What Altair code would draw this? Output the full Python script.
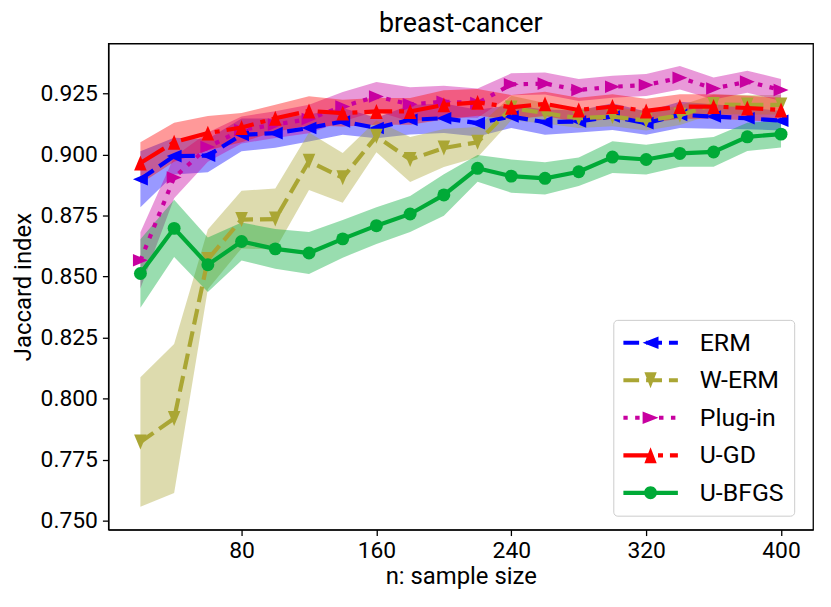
import altair as alt
import pandas as pd

# ---------------- data ----------------
n_values = [20, 40, 60, 80, 100, 120, 140, 160, 180, 200,
            220, 240, 260, 280, 300, 320, 340, 360, 380, 400]

series_names = ["ERM", "W-ERM", "Plug-in", "U-GD", "U-BFGS"]
series_colors = ["#0000ff", "#aaa634", "#c800a0", "#ff0000", "#00aa37"]

erm_mean = [0.8898, 0.8993, 0.8995, 0.9080, 0.9087, 0.9108, 0.9135, 0.9108, 0.9142, 0.9148,
            0.9128, 0.9155, 0.9132, 0.9135, 0.9155, 0.9128, 0.9162, 0.9155, 0.9148, 0.9138]
erm_hw = [0.0115, 0.0075, 0.0068, 0.0067, 0.0060, 0.0055, 0.0055, 0.0042, 0.0060, 0.0060,
          0.0055, 0.0047, 0.0052, 0.0045, 0.0055, 0.0048, 0.0054, 0.0050, 0.0045, 0.0040]

werm_mean = [0.7822, 0.7918, 0.8570, 0.8733, 0.8735, 0.8972, 0.8904, 0.9074, 0.8979, 0.9026,
             0.9050, 0.9190, 0.9169, 0.9148, 0.9155, 0.9138, 0.9160, 0.9205, 0.9203, 0.9203]
werm_hw = [0.0265, 0.0305, 0.0122, 0.0118, 0.0125, 0.0118, 0.0102, 0.0065, 0.0092, 0.0078,
           0.0062, 0.0050, 0.0042, 0.0040, 0.0040, 0.0040, 0.0040, 0.0040, 0.0040, 0.0040]

plug_mean = [0.8566, 0.8905, 0.9030, 0.9100, 0.9122, 0.9145, 0.9196, 0.9237, 0.9205, 0.9216,
             0.9210, 0.9287, 0.9290, 0.9264, 0.9277, 0.9284, 0.9314, 0.9270, 0.9298, 0.9264]
plug_hw = [0.0115, 0.0085, 0.0060, 0.0055, 0.0055, 0.0058, 0.0060, 0.0060, 0.0070, 0.0065,
           0.0060, 0.0045, 0.0045, 0.0045, 0.0045, 0.0045, 0.0048, 0.0045, 0.0045, 0.0045]

ugd_mean = [0.8965, 0.9050, 0.9087, 0.9110, 0.9148, 0.9178, 0.9169, 0.9176, 0.9176, 0.9203,
            0.9213, 0.9193, 0.9207, 0.9182, 0.9196, 0.9178, 0.9196, 0.9196, 0.9190, 0.9182]
ugd_hw = [0.0085, 0.0080, 0.0070, 0.0060, 0.0055, 0.0060, 0.0055, 0.0055, 0.0055, 0.0060,
          0.0055, 0.0050, 0.0050, 0.0050, 0.0050, 0.0050, 0.0050, 0.0050, 0.0050, 0.0050]

ubfgs_mean = [0.8512, 0.8697, 0.8548, 0.8643, 0.8613, 0.8596, 0.8654, 0.8708, 0.8756, 0.8834,
              0.8943, 0.8911, 0.8902, 0.8929, 0.8989, 0.8979, 0.9004, 0.9010, 0.9072, 0.9083]
ubfgs_hw = [0.0140, 0.0117, 0.0112, 0.0078, 0.0081, 0.0086, 0.0077, 0.0075, 0.0074, 0.0085,
            0.0055, 0.0068, 0.0066, 0.0058, 0.0065, 0.0061, 0.0055, 0.0061, 0.0058, 0.0055]

means = [erm_mean, werm_mean, plug_mean, ugd_mean, ubfgs_mean]
halfwidths = [erm_hw, werm_hw, plug_hw, ugd_hw, ubfgs_hw]

x_ticks = [80, 160, 240, 320, 400]
y_ticks = [0.750, 0.775, 0.800, 0.825, 0.850, 0.875, 0.900, 0.925]

# ---------------- styles ----------------
dash_patterns = [[16, 7], [16, 7], [4.5, 7.5], [28, 7, 5, 7], None]
marker_dirs = ["left", "down", "right", "up", "circle"]

FONT = "Roboto"
LW = 4.2


def tri_path(direction, half_len, half_base):
    L, B = half_len, half_base
    if direction == "up":
        return f"M0,{-L}L{B},{L}L{-B},{L}Z"
    if direction == "down":
        return f"M{-B},{-L}L{B},{-L}L0,{L}Z"
    if direction == "left":
        return f"M{-L},0L{L},{-B}L{L},{B}Z"
    return f"M{L},0L{-L},{B}L{-L},{-B}Z"


def circle_path(r):
    return f"M{r},0A{r},{r} 0 1,1 {-r},0A{r},{r} 0 1,1 {r},0Z"


# plot markers (unit box)
plot_marker = []
for d in marker_dirs:
    if d == "circle":
        plot_marker.append("circle")
    else:
        plot_marker.append(tri_path(d, 0.95, 0.8))

# legend symbols: dashed line segment + marker, all in one filled path
LEG_W = 55.0
unit = LEG_W / 2.0
half_th = 2.1 / unit


def u(px):
    return round(px / unit - 1.0, 4)


legend_paths = []
for pat, d in zip(dash_patterns, marker_dirs):
    segs = []
    if pat is None:
        segs.append((0.0, LEG_W))
    else:
        pos, i, on = 0.0, 0, True
        while pos < LEG_W:
            ln = pat[i % len(pat)]
            if on:
                segs.append((pos, min(pos + ln, LEG_W)))
            pos += ln
            on = not on
            i += 1
    p = ""
    for a, b in segs:
        x0, x1 = u(a), u(b)
        p += f"M{x0},{-half_th:.4f}L{x1},{-half_th:.4f}L{x1},{half_th:.4f}L{x0},{half_th:.4f}Z"
    if d == "circle":
        p += circle_path(round(6.5 / unit, 4))
    else:
        p += tri_path(d, round(8.0 / unit, 4), round(6.2 / unit, 4))
    legend_paths.append(p)

# ---------------- table ----------------
rows = []
for s, m, hw in zip(series_names, means, halfwidths):
    for nv, mv, hv in zip(n_values, m, hw):
        rows.append({"n": nv, "series": s, "mean": mv, "lo": mv - hv, "hi": mv + hv})
df = pd.DataFrame(rows)

# ---------------- encodings ----------------
x_enc = alt.X(
    "n:Q",
    scale=alt.Scale(domain=[1, 419], nice=False, zero=False),
    axis=alt.Axis(values=x_ticks, title="n: sample size", format="d"),
)
y_scale = alt.Scale(domain=[0.7463, 0.9454], nice=False, zero=False)
y_axis = alt.Axis(values=y_ticks, title="Jaccard index", format=".3f")
color_scale = alt.Scale(domain=series_names, range=series_colors)

base = alt.Chart(df)

band_layers = []
line_layers = []
for s, col, pat, mk in zip(series_names, series_colors, dash_patterns, plot_marker):
    sub = base.transform_filter(alt.datum.series == s)
    band = sub.mark_area(opacity=0.4, color=col, interpolate="linear").encode(
        x=x_enc,
        y=alt.Y("lo:Q", scale=y_scale, axis=y_axis),
        y2="hi:Q",
    )
    band_layers.append(band)
    line_kwargs = dict(color=col, strokeWidth=LW)
    if pat is not None:
        line_kwargs["strokeDash"] = pat
    line = sub.mark_line(**line_kwargs).encode(
        x=x_enc, y=alt.Y("mean:Q", scale=y_scale, axis=y_axis)
    )
    msize = 169 if mk == "circle" else 250
    pts = sub.mark_point(shape=mk, filled=True, size=msize, color=col, opacity=1, strokeWidth=0).encode(
        x=x_enc, y=alt.Y("mean:Q", scale=y_scale, axis=y_axis)
    )
    line_layers += [line, pts]

legend_def = alt.Legend(
    title=None,
    orient="none",
    legendX=508,
    legendY=278,
    fillColor="white",
    strokeColor="#cccccc",
    cornerRadius=4,
    padding=10,
    labelFont=FONT,
    labelFontSize=25,
    labelColor="black",
    labelOffset=22,
    symbolSize=LEG_W * LEG_W,
    symbolStrokeWidth=0,
    symbolOpacity=1,
    clipHeight=26,
    rowPadding=11.75,
)

legend_layer = base.transform_filter("false").mark_point(filled=True, opacity=1).encode(
    x=x_enc,
    y=alt.Y("mean:Q", scale=y_scale, axis=y_axis),
    color=alt.Color("series:N", scale=color_scale, legend=legend_def),
    shape=alt.Shape("series:N", scale=alt.Scale(domain=series_names, range=legend_paths), legend=legend_def),
)

chart = (
    alt.layer(*band_layers, *line_layers, legend_layer)
    .properties(
        width=709,
        height=489,
        title=alt.TitleParams(
            "breast-cancer", font=FONT, fontSize=27, fontWeight="normal", color="black",
            anchor="middle", offset=6,
        ),
        autosize=alt.AutoSizeParams(type="none"),
        padding={"left": 101, "top": 34, "right": 10, "bottom": 60},
    )
    .configure_view(stroke="black", strokeWidth=1.3)
    .configure_axis(
        grid=False,
        domainColor="black",
        domainWidth=1.3,
        tickColor="black",
        tickWidth=1.3,
        tickSize=6,
        labelFont=FONT,
        labelFontSize=23,
        labelColor="black",
        titleFont=FONT,
        titleFontSize=24,
        titleFontWeight="normal",
        titleColor="black",
    )
    .configure_axisX(labelPadding=4, titlePadding=2)
    .configure_axisY(labelPadding=5, titlePadding=5)
)

chart.save("out.html", embed_options={"renderer": "svg", "actions": False})
